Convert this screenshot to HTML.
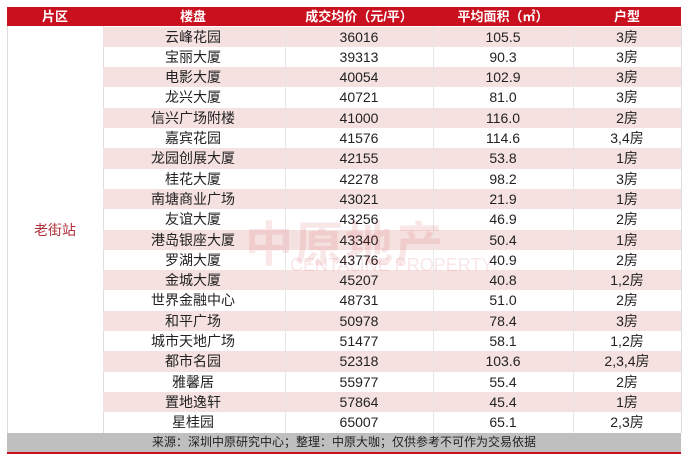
<!DOCTYPE html>
<html><head><meta charset="utf-8"><style>
body{margin:0;width:688px;height:461px;background:#fff;overflow:hidden;position:relative;font-family:"Liberation Sans","Noto Sans CJK SC",sans-serif;}
.hd{position:absolute;left:7px;top:7px;width:674px;height:19px;background:#c8101e;}
.hd div,.r div{position:absolute;top:0;text-align:center;}
.hd div{color:#fff;font-weight:bold;font-size:13px;line-height:19px;}
.r{position:absolute;left:103px;width:578px;height:20.3px;font-size:14px;line-height:20px;color:#222;}
.p{background:#f5e1e0;}
.c1{left:0;width:180px}.c2{left:182px;width:148px}.c3{left:330px;width:140px}.c4{left:470px;width:108px}
.vl{position:absolute;width:1px;background:#ddd;top:26px;height:407px;}
.ft{position:absolute;left:7px;top:433px;width:674px;height:19px;background:#bfbfbf;font-size:12px;line-height:19px;text-align:center;color:#222;}
.rl{position:absolute;left:7px;top:452px;width:674px;height:2px;background:#c8101e;}
.wm{position:absolute;left:245px;top:205px;font-size:48px;font-weight:bold;color:rgba(200,16,30,0.10);letter-spacing:2px;}
.wm2{position:absolute;left:290px;top:255px;font-size:18px;color:rgba(200,16,30,0.10);}
</style></head><body>
<div class="hd"><div style="left:0;width:96px">片区</div><div style="left:96px;width:180px">楼盘</div><div style="left:278px;width:148px">成交均价（元/平）</div><div style="left:426px;width:140px">平均面积（㎡）</div><div style="left:566px;width:108px">户型</div></div>
<div class="vl" style="left:7px"></div><div class="vl" style="left:681px"></div>
<div class="vl" style="left:103px"></div>
<div id="rows"></div>
<script>
var d=[["云峰花园","36016","105.5","3房"],["宝丽大厦","39313","90.3","3房"],["电影大厦","40054","102.9","3房"],["龙兴大厦","40721","81.0","3房"],["信兴广场附楼","41000","116.0","2房"],["嘉宾花园","41576","114.6","3,4房"],["龙园创展大厦","42155","53.8","1房"],["桂花大厦","42278","98.2","3房"],["南塘商业广场","43021","21.9","1房"],["友谊大厦","43256","46.9","2房"],["港岛银座大厦","43340","50.4","1房"],["罗湖大厦","43776","40.9","2房"],["金城大厦","45207","40.8","1,2房"],["世界金融中心","48731","51.0","2房"],["和平广场","50978","78.4","3房"],["城市天地广场","51477","58.1","1,2房"],["都市名园","52318","103.6","2,3,4房"],["雅馨居","55977","55.4","2房"],["置地逸轩","57864","45.4","1房"],["星桂园","65007","65.1","2,3房"]];
var h="";d.forEach(function(r,i){h+='<div class="r'+(i%2==0?' p':'')+'" style="top:'+(26.5+i*20.3)+'px"><div class="c1">'+r[0]+'</div><div class="c2">'+r[1]+'</div><div class="c3">'+r[2]+'</div><div class="c4">'+r[3]+'</div></div>';});
document.getElementById("rows").innerHTML=h;
</script>
<div class="vl" style="left:285px;background:#e6e6e6"></div><div class="vl" style="left:433px;background:#e6e6e6"></div><div class="vl" style="left:573px;background:#e6e6e6"></div>
<div style="position:absolute;left:7px;top:220px;width:96px;text-align:center;color:#b0303a;font-size:14px;">老街站</div>
<div class="wm">中原地产</div><div class="wm2">CENTALINE PROPERTY</div>
<div class="ft">来源：深圳中原研究中心；整理：中原大咖；仅供参考不可作为交易依据</div>
<div class="rl"></div>
</body></html>
